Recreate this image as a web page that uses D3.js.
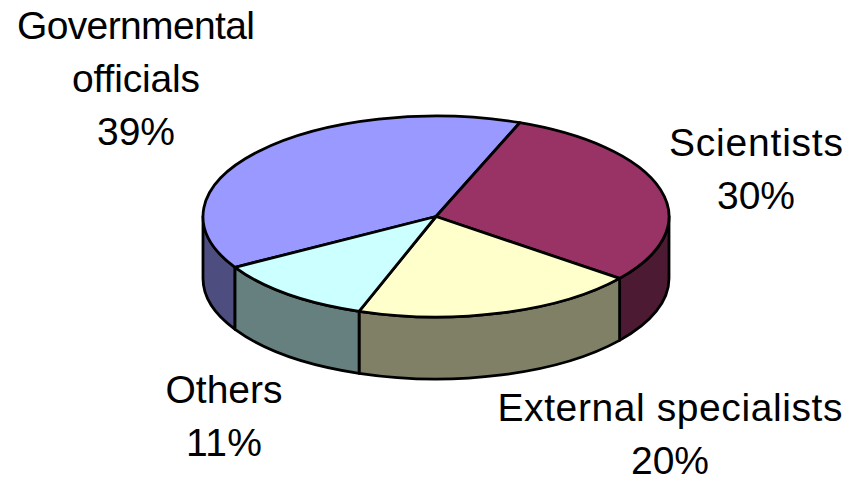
<!DOCTYPE html>
<html>
<head>
<meta charset="utf-8">
<script src="https://cdn.jsdelivr.net/npm/d3@7"></script>
<style>
  html, body { margin: 0; padding: 0; background: #fff; }
  text { font-family: "Liberation Sans", Arial, sans-serif; font-size: 39px; fill: #000; text-anchor: middle; }
</style>
</head>
<body>
<div id="chart"></div>
<script>
// Data, shares (labels show them rounded)
const categories = ["Governmental officials", "Scientists", "External specialists", "Others"];
const shares = [39.3, 29.7, 19.8, 11.2];

// Colours, top face and the darker side wall
const topColors = ["#9999ff", "#993366", "#ffffcc", "#ccffff"];
const sideColors = ["#4d4d80", "#4d1a33", "#808066", "#668080"];

// Label lines, where each block sits and how wide each line is
const labelLines = [["Governmental", "officials"], ["Scientists"], ["External specialists"], ["Others"]];
const labelPos = [[136, 39], [756, 156], [670, 421], [224, 403]];
const labelWidths = [[238, 128, 78], [174, 78], [345, 78], [117, 76]];
const lineStep = 52.8;

// Chart dimensions
const width = 848, height = 477;
const cx = 436, cy = 216.5, rx = 233, ry = 100.5, depth = 62;
const firstAngle = 239.6 * Math.PI / 180;
const turn = 2 * Math.PI;

const svg = d3.select("#chart").append("svg")
    .attr("width", width)
    .attr("height", height)
    .style("display", "block");

const pie = d3.pie().sort(null)
    .startAngle(firstAngle)
    .endAngle(firstAngle + turn);
const slices = pie(shares);

// Point on the rim, angle measured clockwise from the top
const rim = (a, drop) => [cx + rx * Math.sin(a), cy - ry * Math.cos(a) + drop];

// Only the front half of the rim (90deg to 270deg) has a visible wall.
// Slices after the first run past 360, so bring them back one turn first
const wallPath = d => {
    const off = Math.floor(d.startAngle / turn) * turn;
    const a0 = Math.max(d.startAngle - off, Math.PI / 2);
    const a1 = Math.min(d.endAngle - off, 3 * Math.PI / 2);
    if (a1 <= a0) return null;
    const p0 = rim(a0, 0), p1 = rim(a1, 0), q1 = rim(a1, depth), q0 = rim(a0, depth);
    return "M" + p0 + "A" + rx + "," + ry + " 0 0 1 " + p1 +
           "L" + q1 + "A" + rx + "," + ry + " 0 0 0 " + q0 + "Z";
};

const walls = svg.append("g");
walls.selectAll("path")
    .data(slices)
    .enter().append("path")
    .attr("d", wallPath)
    .attr("fill", (d, i) => sideColors[i])
    .attr("stroke", "#000")
    .attr("stroke-width", 2.8)
    .attr("stroke-linejoin", "round");

// Top face: a normal d3 arc squashed into an ellipse
const arc = d3.arc().innerRadius(0).outerRadius(rx);
const faces = svg.append("g")
    .attr("transform", "translate(" + cx + "," + cy + ") scale(1," + (ry / rx) + ")");
faces.selectAll("path")
    .data(slices)
    .enter().append("path")
    .attr("d", arc)
    .attr("fill", (d, i) => topColors[i])
    .attr("stroke", "#000")
    .attr("stroke-width", 2.8)
    .attr("stroke-linejoin", "round")
    .attr("vector-effect", "non-scaling-stroke")
    .append("title").text((d, i) => categories[i]);

// Labels
categories.forEach((c, i) => {
    labelLines[i].concat([Math.round(shares[i]) + "%"]).forEach((line, j) => {
        svg.append("text")
            .attr("x", labelPos[i][0])
            .attr("y", labelPos[i][1] + j * lineStep)
            .attr("textLength", labelWidths[i][j])
            .attr("lengthAdjust", "spacing")
            .text(line);
    });
});
</script>
</body>
</html>
